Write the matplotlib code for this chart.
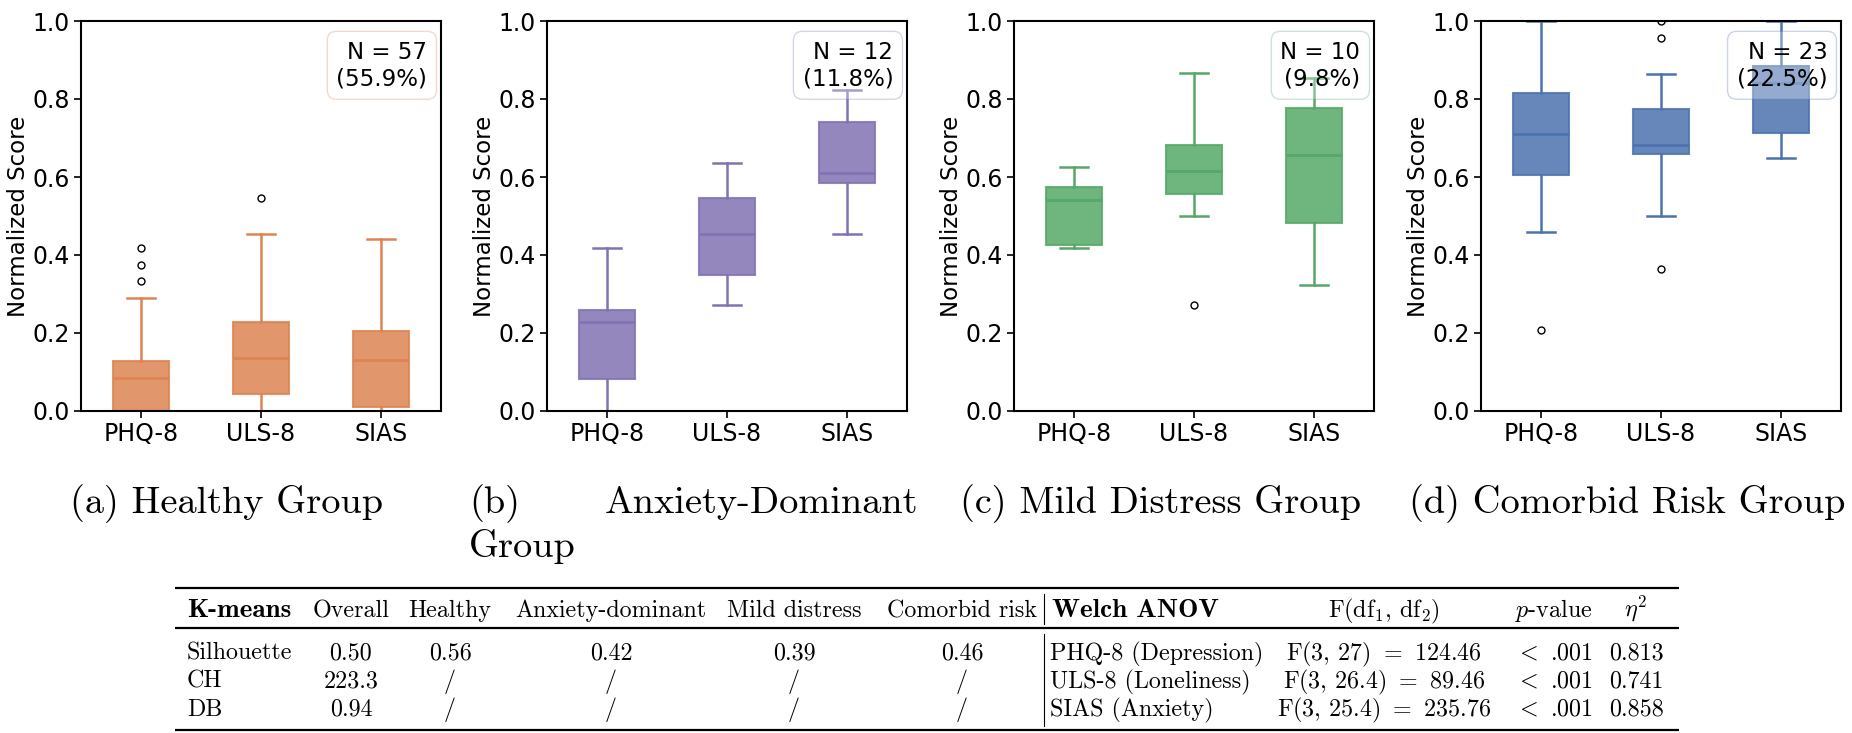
import matplotlib
matplotlib.use("Agg")
import matplotlib.pyplot as plt

plt.rcParams["mathtext.fontset"] = "cm"
plt.rcParams["axes.unicode_minus"] = False

# Box plot panels
measures = ["PHQ-8", "ULS-8", "SIAS"]
captions = ["(a) Healthy Group", "(b) Anxiety-Dominant Group",
            "(c) Mild Distress Group", "(d) Comorbid Risk Group"]
colors = ["#dd8452", "#8172b3", "#55a868", "#4c72b0"]
counts = [57, 12, 10, 23]
shares = [55.9, 11.8, 9.8, 22.5]

# per group: values for [PHQ-8, ULS-8, SIAS]
whislo = [[0.0, 0.0, 0.0], [0.0, 0.273, 0.455], [0.417, 0.500, 0.323], [0.459, 0.500, 0.648]]
q1 = [[0.0, 0.043, 0.011], [0.081, 0.350, 0.584], [0.425, 0.556, 0.481], [0.604, 0.658, 0.712]]
med = [[0.084, 0.135, 0.132], [0.229, 0.455, 0.611], [0.542, 0.615, 0.656], [0.709, 0.683, 0.840]]
q3 = [[0.127, 0.228, 0.206], [0.260, 0.547, 0.740], [0.574, 0.683, 0.776], [0.815, 0.775, 0.885]]
whishi = [[0.291, 0.455, 0.441], [0.417, 0.637, 0.824], [0.626, 0.866, 0.854], [1.0, 0.865, 1.0]]
fliers = [
    [[0.417, 0.374, 0.333], [0.547], []],
    [[], [], []],
    [[], [0.273], []],
    [[0.2075], [1.0, 0.956, 0.364], []],
]

# Table
kmeans_cols = ["Overall", "Healthy", "Anxiety-dominant", "Mild distress", "Comorbid risk"]
kmeans_rows = ["Silhouette", "CH", "DB"]
kmeans_vals = [
    ["0.50", "0.56", "0.42", "0.39", "0.46"],
    ["223.3", "/", "/", "/", "/"],
    ["0.94", "/", "/", "/", "/"],
]
anova_cols = [r"F(df$_1$, df$_2$)", r"$p$-value", r"$\eta^2$"]
anova_rows = ["PHQ-8 (Depression)", "ULS-8 (Loneliness)", "SIAS (Anxiety)"]
anova_f = [r"F(3, 27) $=$ 124.46", r"F(3, 26.4) $=$ 89.46", r"F(3, 25.4) $=$ 235.76"]
anova_p = [r"$<$ .001", r"$<$ .001", r"$<$ .001"]
anova_eta = ["0.813", "0.741", "0.858"]

W, H = 1852, 733
fig = plt.figure(figsize=(W / 100, H / 100), dpi=100)

# overlay in pixel coordinates for captions and table
ov = fig.add_axes([0, 0, 1, 1])
ov.set_xlim(0, W)
ov.set_ylim(H, 0)
ov.axis("off")

ax_left = [81, 547, 1014, 1481]
for g in range(4):
    ax = fig.add_axes([ax_left[g] / W, (H - 411) / H, 360 / W, 390 / H])
    c = colors[g]
    stats = []
    for i, m in enumerate(measures):
        stats.append(dict(label=m, whislo=whislo[g][i], q1=q1[g][i], med=med[g][i],
                          q3=q3[g][i], whishi=whishi[g][i], fliers=fliers[g][i]))
    ax.bxp(stats, positions=[1, 2, 3], widths=0.46, patch_artist=True,
           boxprops=dict(facecolor=c, edgecolor=c, alpha=0.85, linewidth=1.5),
           medianprops=dict(color=c, linewidth=2),
           whiskerprops=dict(color=c, linewidth=1.8),
           capprops=dict(color=c, linewidth=1.8),
           flierprops=dict(marker="o", markerfacecolor="none",
                           markeredgecolor="black", markersize=5, markeredgewidth=1))
    ax.set_xlim(0.5, 3.5)
    ax.set_ylim(0, 1)
    ax.set_yticks([0, 0.2, 0.4, 0.6, 0.8, 1.0])
    ax.set_yticklabels(["0.0", "0.2", "0.4", "0.6", "0.8", "1.0"])
    ax.tick_params(labelsize=17, length=5, width=1.2, pad=3)
    ax.set_ylabel("Normalized Score", fontsize=16.5, labelpad=2)
    for s in ax.spines.values():
        s.set_linewidth(1.5)
    ax.text(0.962, 0.95, f"N = {counts[g]}\n({shares[g]}%)", transform=ax.transAxes,
            ha="right", va="top", multialignment="right", fontsize=16.5,
            bbox=dict(boxstyle="round,pad=0.4", facecolor="white", edgecolor=c, alpha=0.3))

# captions
cap_kw = dict(family="cmr10", fontsize=27.6, va="baseline")
ov.text(227, 513, captions[0], ha="center", **cap_kw)
ov.text(469, 513, captions[1][:3], ha="left", **cap_kw)
ov.text(918, 513, "Anxiety-Dominant", ha="right", **cap_kw)
ov.text(469, 557, "Group", ha="left", **cap_kw)
ov.text(1160, 513, captions[2], ha="center", **cap_kw)
ov.text(1627, 513, captions[3], ha="center", **cap_kw)

# table
tk = dict(family="cmr10", fontsize=17.3, va="baseline")
bk = dict(family="cmb10", fontsize=19.5, va="baseline")
y_head = 617
y_rows = [660, 688, 716]
km_x = [351, 450, 611, 794, 962]
an_x = [1384, 1554, 1636]

ov.text(187, y_head, "K-means", ha="left", **bk)
ov.text(1052, y_head, "Welch ANOV", ha="left", **bk)
for x, t in zip(km_x, kmeans_cols):
    ov.text(x, y_head, t, ha="center", **tk)
for x, t in zip(an_x, anova_cols):
    ov.text(x, y_head, t, ha="center", **tk)

for r in range(3):
    y = y_rows[r]
    ov.text(187, y, kmeans_rows[r], ha="left", **tk)
    for x, t in zip(km_x, kmeans_vals[r]):
        ov.text(x, y, t, ha="center", **tk)
    ov.text(1050, y, anova_rows[r], ha="left", **tk)
    ov.text(an_x[0], y, anova_f[r], ha="center", **tk)
    ov.text(an_x[1], y, anova_p[r], ha="center", **tk)
    ov.text(an_x[2], y, anova_eta[r], ha="center", **tk)

for y in [588, 628, 730]:
    ov.plot([175, 1679], [y, y], color="black", linewidth=1.6, solid_capstyle="butt")
ov.plot([1044, 1044], [594, 624], color="black", linewidth=0.8)
ov.plot([1044, 1044], [634, 726], color="black", linewidth=0.8)

fig.savefig("out.png", dpi=100)
